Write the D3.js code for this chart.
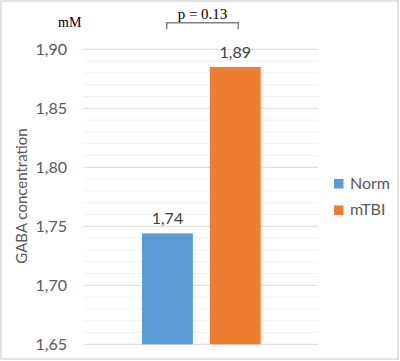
<!DOCTYPE html>
<html>
<head>
<meta charset="utf-8">
<script src="https://cdn.jsdelivr.net/npm/d3@7"></script>
<style>
  body { margin: 0; background: #fff; }
  svg text { font-family: Lato, "Open Sans", sans-serif; }
</style>
</head>
<body>
<div class="main"></div>
<script>
// data
var groups = ["Norm", "mTBI"];
var values = [1.744, 1.885];
var labels = ["1,74", "1,89"];
var colors = ["#5b9bd5", "#ed7d31"];
var yTicks = [1.65, 1.70, 1.75, 1.80, 1.85, 1.90];
var pText = "p = 0.13";

var width = 400, height = 361;

var svg = d3.select("div.main").append("svg")
    .attr("width", width)
    .attr("height", height);

// chart border
svg.append("rect")
    .attr("x", 1).attr("y", 1)
    .attr("width", 397).attr("height", 358)
    .attr("fill", "#fff")
    .attr("stroke", "#d9d9d9")
    .attr("stroke-width", 1.5);

var y = d3.scaleLinear()
    .domain([1.65, 1.90])
    .range([344.3, 49.3]);

var x = d3.scaleBand()
    .domain(groups)
    .range([142, 260.7])
    .paddingInner(0.25);

var plotLeft = 84, plotRight = 318;

// minor gridlines
var minor = d3.range(1.65, 1.90, 0.01).map(function(d) { return +d.toFixed(2); })
    .filter(function(d) { return yTicks.indexOf(d) < 0; });
svg.append("g").selectAll("line")
    .data(minor)
    .enter().append("line")
    .attr("x1", plotLeft).attr("x2", plotRight)
    .attr("y1", function(d) { return y(d); })
    .attr("y2", function(d) { return y(d); })
    .attr("stroke", "#f2f2f2")
    .attr("stroke-width", 1);

// major gridlines
svg.append("g").selectAll("line")
    .data(yTicks)
    .enter().append("line")
    .attr("x1", plotLeft).attr("x2", plotRight)
    .attr("y1", function(d) { return y(d); })
    .attr("y2", function(d) { return y(d); })
    .attr("stroke", "#d9d9d9")
    .attr("stroke-width", 1);

// y axis labels
var yAxis = d3.axisLeft(y)
    .tickValues(yTicks)
    .tickSize(0)
    .tickPadding(0)
    .tickFormat(function(d) { return d3.format(".2f")(d).replace(".", ","); });

var ax = svg.append("g")
    .attr("transform", "translate(67,0)")
    .call(yAxis);
ax.select(".domain").remove();
ax.selectAll("text")
    .attr("fill", "#595959")
    .style("font-size", "16px")
    .style("font-family", "Lato, sans-serif");

// bars
svg.append("g").selectAll("rect")
    .data(groups)
    .enter().append("rect")
    .attr("x", function(d) { return x(d); })
    .attr("width", x.bandwidth())
    .attr("y", function(d, i) { return y(values[i]); })
    .attr("height", function(d, i) { return y(1.65) - y(values[i]); })
    .attr("fill", function(d, i) { return colors[i]; });

// value labels
svg.append("g").selectAll("text")
    .data(groups)
    .enter().append("text")
    .attr("x", function(d) { return x(d) + x.bandwidth() / 2; })
    .attr("y", function(d, i) { return y(values[i]) - 9; })
    .attr("text-anchor", "middle")
    .attr("fill", "#404040")
    .style("font-size", "16px")
    .text(function(d, i) { return labels[i]; });

// axis title
svg.append("text")
    .attr("transform", "translate(27,196) rotate(-90)")
    .attr("text-anchor", "middle")
    .attr("fill", "#595959")
    .style("font-size", "15px")
    .text("GABA concentration");

// units
svg.append("text")
    .attr("x", 58).attr("y", 27)
    .style("font-family", "'Liberation Serif', serif")
    .style("font-size", "14px")
    .attr("fill", "#000")
    .text("mM");

// significance bracket
var bx1 = 166.7, bx2 = 238.3, by = 22.7;
svg.append("path")
    .attr("d", "M" + bx1 + "," + (by + 6.5) + "V" + by + "H" + bx2 + "V" + (by + 6.5))
    .attr("fill", "none")
    .attr("stroke", "#808080")
    .attr("stroke-width", 1.5);

svg.append("text")
    .attr("x", (bx1 + bx2) / 2).attr("y", 19)
    .attr("text-anchor", "middle")
    .style("font-family", "'Liberation Serif', serif")
    .style("font-size", "15px")
    .attr("fill", "#000")
    .text(pText);

// legend
var legend = svg.append("g").selectAll("g")
    .data(groups)
    .enter().append("g")
    .attr("transform", function(d, i) { return "translate(334," + (179 + i * 26.5) + ")"; });

legend.append("rect")
    .attr("width", 9.5).attr("height", 9.5)
    .attr("fill", function(d, i) { return colors[i]; });

legend.append("text")
    .attr("x", 16).attr("y", 9.5)
    .attr("fill", "#595959")
    .style("font-size", "16px")
    .text(function(d) { return d; });
</script>
</body>
</html>
